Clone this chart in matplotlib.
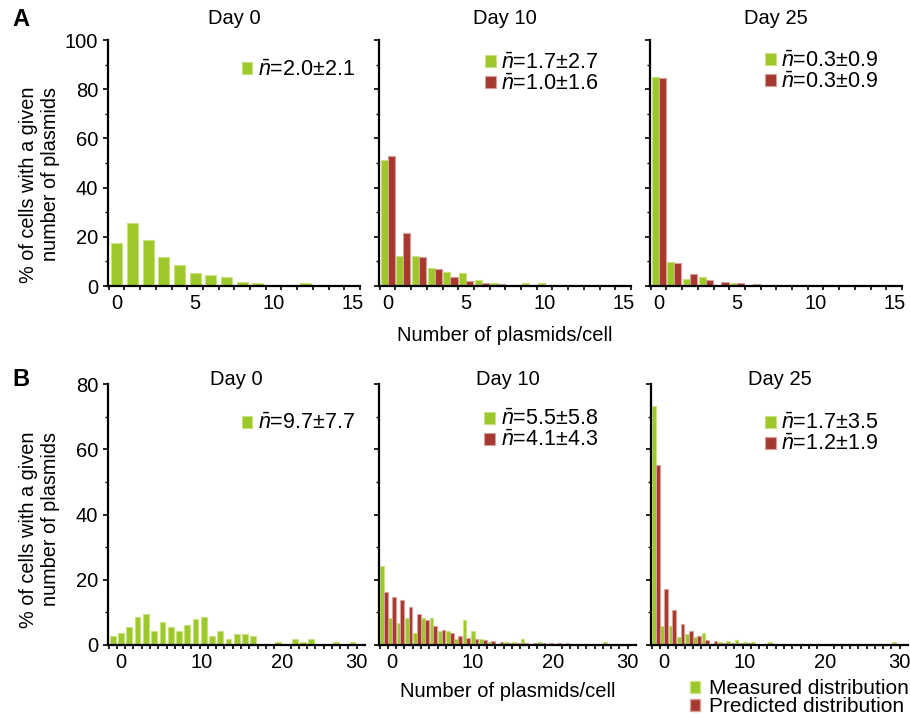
import numpy as np
import matplotlib.pyplot as plt
from matplotlib.patches import Patch

plt.rcParams['font.family'] = ['Liberation Sans', 'DejaVu Sans']
plt.rcParams['mathtext.fontset'] = 'custom'
plt.rcParams['mathtext.rm'] = 'Liberation Sans'
plt.rcParams['mathtext.it'] = 'Liberation Sans:italic'

# panel A: plasmid counts 0..15 (% of cells)
a_day0_meas = [17.3, 25.5, 18.6, 11.7, 8.5, 5.4, 4.5, 3.7, 1.8, 1.2, 0, 0, 1.1, 0, 0, 0]
a_day10_meas = [51.1, 12.2, 12.3, 7.2, 5.8, 5.3, 2.6, 1.1, 0, 1.1, 1.1, 0.5, 0.5, 0, 0, 0.5]
a_day10_pred = [53.0, 21.4, 11.8, 6.8, 3.5, 2.2, 1.1, 0.8, 0.5, 0.5, 0, 0, 0, 0, 0, 0]
a_day25_meas = [84.8, 9.9, 3.0, 3.7, 0, 1.1, 0, 0, 0, 0, 0, 0, 0, 0, 0, 0]
a_day25_pred = [84.4, 9.2, 4.7, 2.4, 1.6, 1.1, 0.9, 0, 0, 0, 0, 0, 0, 0, 0, 0]

# panel B: plasmid counts 0..29 (% of cells)
b_day0_meas = [2.9, 3.6, 5.4, 8.7, 9.4, 4.3, 6.9, 5.4, 4.3, 6.1, 7.9, 8.7, 2.8, 4.3, 1.8,
               3.5, 3.5, 2.7, 0, 0, 0.8, 0, 1.8, 0.9, 1.8, 0, 0, 0.9, 0, 0.9]
b_day10_meas = [24.3, 8.4, 6.6, 8.4, 3.6, 8.4, 8.2, 4.3, 4.3, 1.8, 7.7, 4.3, 1.8, 0.9, 0,
                0.9, 0.9, 1.8, 0, 0.9, 0, 0, 0, 0, 0, 0, 0, 0.9, 0, 0]
b_day10_pred = [16.3, 14.7, 13.9, 11.6, 9.5, 7.7, 5.9, 4.6, 3.6, 2.9, 2.1, 1.8, 1.5, 1.2, 0.9,
                0.7, 0.7, 0.5, 0.5, 0.5, 0.5, 0.5, 0.5, 0, 0, 0, 0, 0, 0, 0]
b_day25_meas = [73.2, 5.8, 5.7, 2.6, 3.3, 2.5, 3.7, 0, 0.9, 1.2, 1.5, 0.9, 0.9, 0, 0.9,
                0, 0, 0, 0, 0, 0, 0, 0, 0, 0, 0, 0, 0, 0, 0.9]
b_day25_pred = [55.2, 17.2, 10.7, 6.4, 4.3, 2.8, 1.5, 1.2, 0.7, 0.5, 0.5, 0.5, 0, 0, 0,
                0, 0, 0, 0, 0, 0, 0, 0, 0, 0, 0, 0, 0, 0, 0]

titles = ['Day 0', 'Day 10', 'Day 25']
a_stats = [['2.0±2.1'], ['1.7±2.7', '1.0±1.6'], ['0.3±0.9', '0.3±0.9']]
b_stats = [['9.7±7.7'], ['5.5±5.8', '4.1±4.3'], ['1.7±3.5', '1.2±1.9']]
a_ticks, a_ticklabels = [0, 5, 10, 15], ['0', '5', '10', '15']
b_ticks, b_ticklabels = [1, 10.8, 20.5, 29.4], ['0', '10', '20', '30']
ylabel = '% of cells with a given\nnumber of plasmids'

GREEN, GREEN_EDGE = '#9cc82a', '#c9e27e'
RED, RED_EDGE = '#a5382f', '#d9a09a'
FS = 14.5

fig = plt.figure(figsize=(9.1, 7.18), dpi=100)
W, H = 910, 718


def make_ax(left, top, width, height):
    return fig.add_axes([left / W, 1 - (top + height) / H, width / W, height / H])


def draw(ax, meas, pred, stats, ymax, ticks, ticklabels, xlim, leg_xy, show_y):
    x = np.arange(len(meas))
    if pred is None:
        ax.bar(x, meas, width=0.7, color=GREEN, edgecolor=GREEN_EDGE, linewidth=0.8,
               label=r'$\bar{n}$=' + stats[0])
    else:
        ax.bar(x - 0.225, meas, width=0.45, color=GREEN, edgecolor=GREEN_EDGE, linewidth=0.8,
               label=r'$\bar{n}$=' + stats[0])
        ax.bar(x + 0.225, pred, width=0.45, color=RED, edgecolor=RED_EDGE, linewidth=0.8,
               label=r'$\bar{n}$=' + stats[1])
    ax.set_xlim(*xlim)
    ax.set_ylim(0, ymax)
    for s in ['top', 'right']:
        ax.spines[s].set_visible(False)
    for s in ['left', 'bottom']:
        ax.spines[s].set_linewidth(1.6)
    ax.set_xticks(ticks)
    ax.set_xticklabels(ticklabels)
    ax.set_xticks(np.arange(-0.5, len(meas), 1), minor=True)
    ax.tick_params(axis='x', which='major', length=0, labelsize=FS, pad=6)
    ax.tick_params(axis='x', which='minor', length=3, width=1.2, direction='out')
    ax.set_yticks(np.arange(0, ymax + 1, 20))
    ax.set_yticks(np.arange(10, ymax, 20), minor=True)
    ax.tick_params(axis='y', which='major', length=3.5, width=1.2, labelsize=FS)
    ax.tick_params(axis='y', which='minor', length=2, width=1.0)
    if not show_y:
        ax.set_yticklabels([])
    ax.legend(loc='upper left', bbox_to_anchor=leg_xy, frameon=False, fontsize=15.5,
              handlelength=0.5, handleheight=0.5, handletextpad=0.25,
              labelspacing=0.0, borderpad=0, borderaxespad=0)


# row A
a_meas = [a_day0_meas, a_day10_meas, a_day25_meas]
a_pred = [None, a_day10_pred, a_day25_pred]
a_left = [108, 379, 650]
a_leg = [(0.53, 0.92), (0.42, 0.949), (0.456, 0.957)]
for i in range(3):
    ax = make_ax(a_left[i], 40, 252, 246)
    draw(ax, a_meas[i], a_pred[i], a_stats[i], 100, a_ticks, a_ticklabels,
         (-0.55, 15.4), a_leg[i], i == 0)
    ax.text(0.5, 1.089, titles[i], transform=ax.transAxes, ha='center', va='center', fontsize=FS)
    if i == 0:
        ax.set_ylabel(ylabel, fontsize=14.3, multialignment='right')
        ax.yaxis.set_label_coords(-0.19, 0.41)
    if i == 1:
        ax.set_xlabel('Number of plasmids/cell', fontsize=FS, labelpad=9)

# row B
b_meas = [b_day0_meas, b_day10_meas, b_day25_meas]
b_pred = [None, b_day10_pred, b_day25_pred]
b_left = [108, 379, 651]
b_leg = [(0.52, 0.887), (0.41, 0.903), (0.443, 0.887)]
for i in range(3):
    ax = make_ax(b_left[i], 384, 257, 261)
    draw(ax, b_meas[i], b_pred[i], b_stats[i], 80, b_ticks, b_ticklabels,
         (-0.58, 30.5), b_leg[i], i == 0)
    ax.text(0.5, 1.019, titles[i], transform=ax.transAxes, ha='center', va='center', fontsize=FS)
    if i == 0:
        ax.set_ylabel(ylabel, fontsize=14.3, multialignment='right')
        ax.yaxis.set_label_coords(-0.186, 0.44)
    if i == 1:
        ax.set_xlabel('Number of plasmids/cell', fontsize=FS, labelpad=7)

fig.text(12 / W, 1 - 20 / H, 'A', fontsize=17, fontweight='bold', va='center')
fig.text(12 / W, 1 - 380 / H, 'B', fontsize=17, fontweight='bold', va='center')

handles = [Patch(facecolor=GREEN, edgecolor=GREEN_EDGE), Patch(facecolor=RED, edgecolor=RED_EDGE)]
fig.legend(handles, ['Measured distribution', 'Predicted distribution'], loc='upper left',
           bbox_to_anchor=(690 / W, 1 - 679 / H), frameon=False, fontsize=15,
           handlelength=0.5, handleheight=0.5, handletextpad=0.4,
           labelspacing=-0.05, borderpad=0, borderaxespad=0)

fig.savefig('out.png', dpi=100)
